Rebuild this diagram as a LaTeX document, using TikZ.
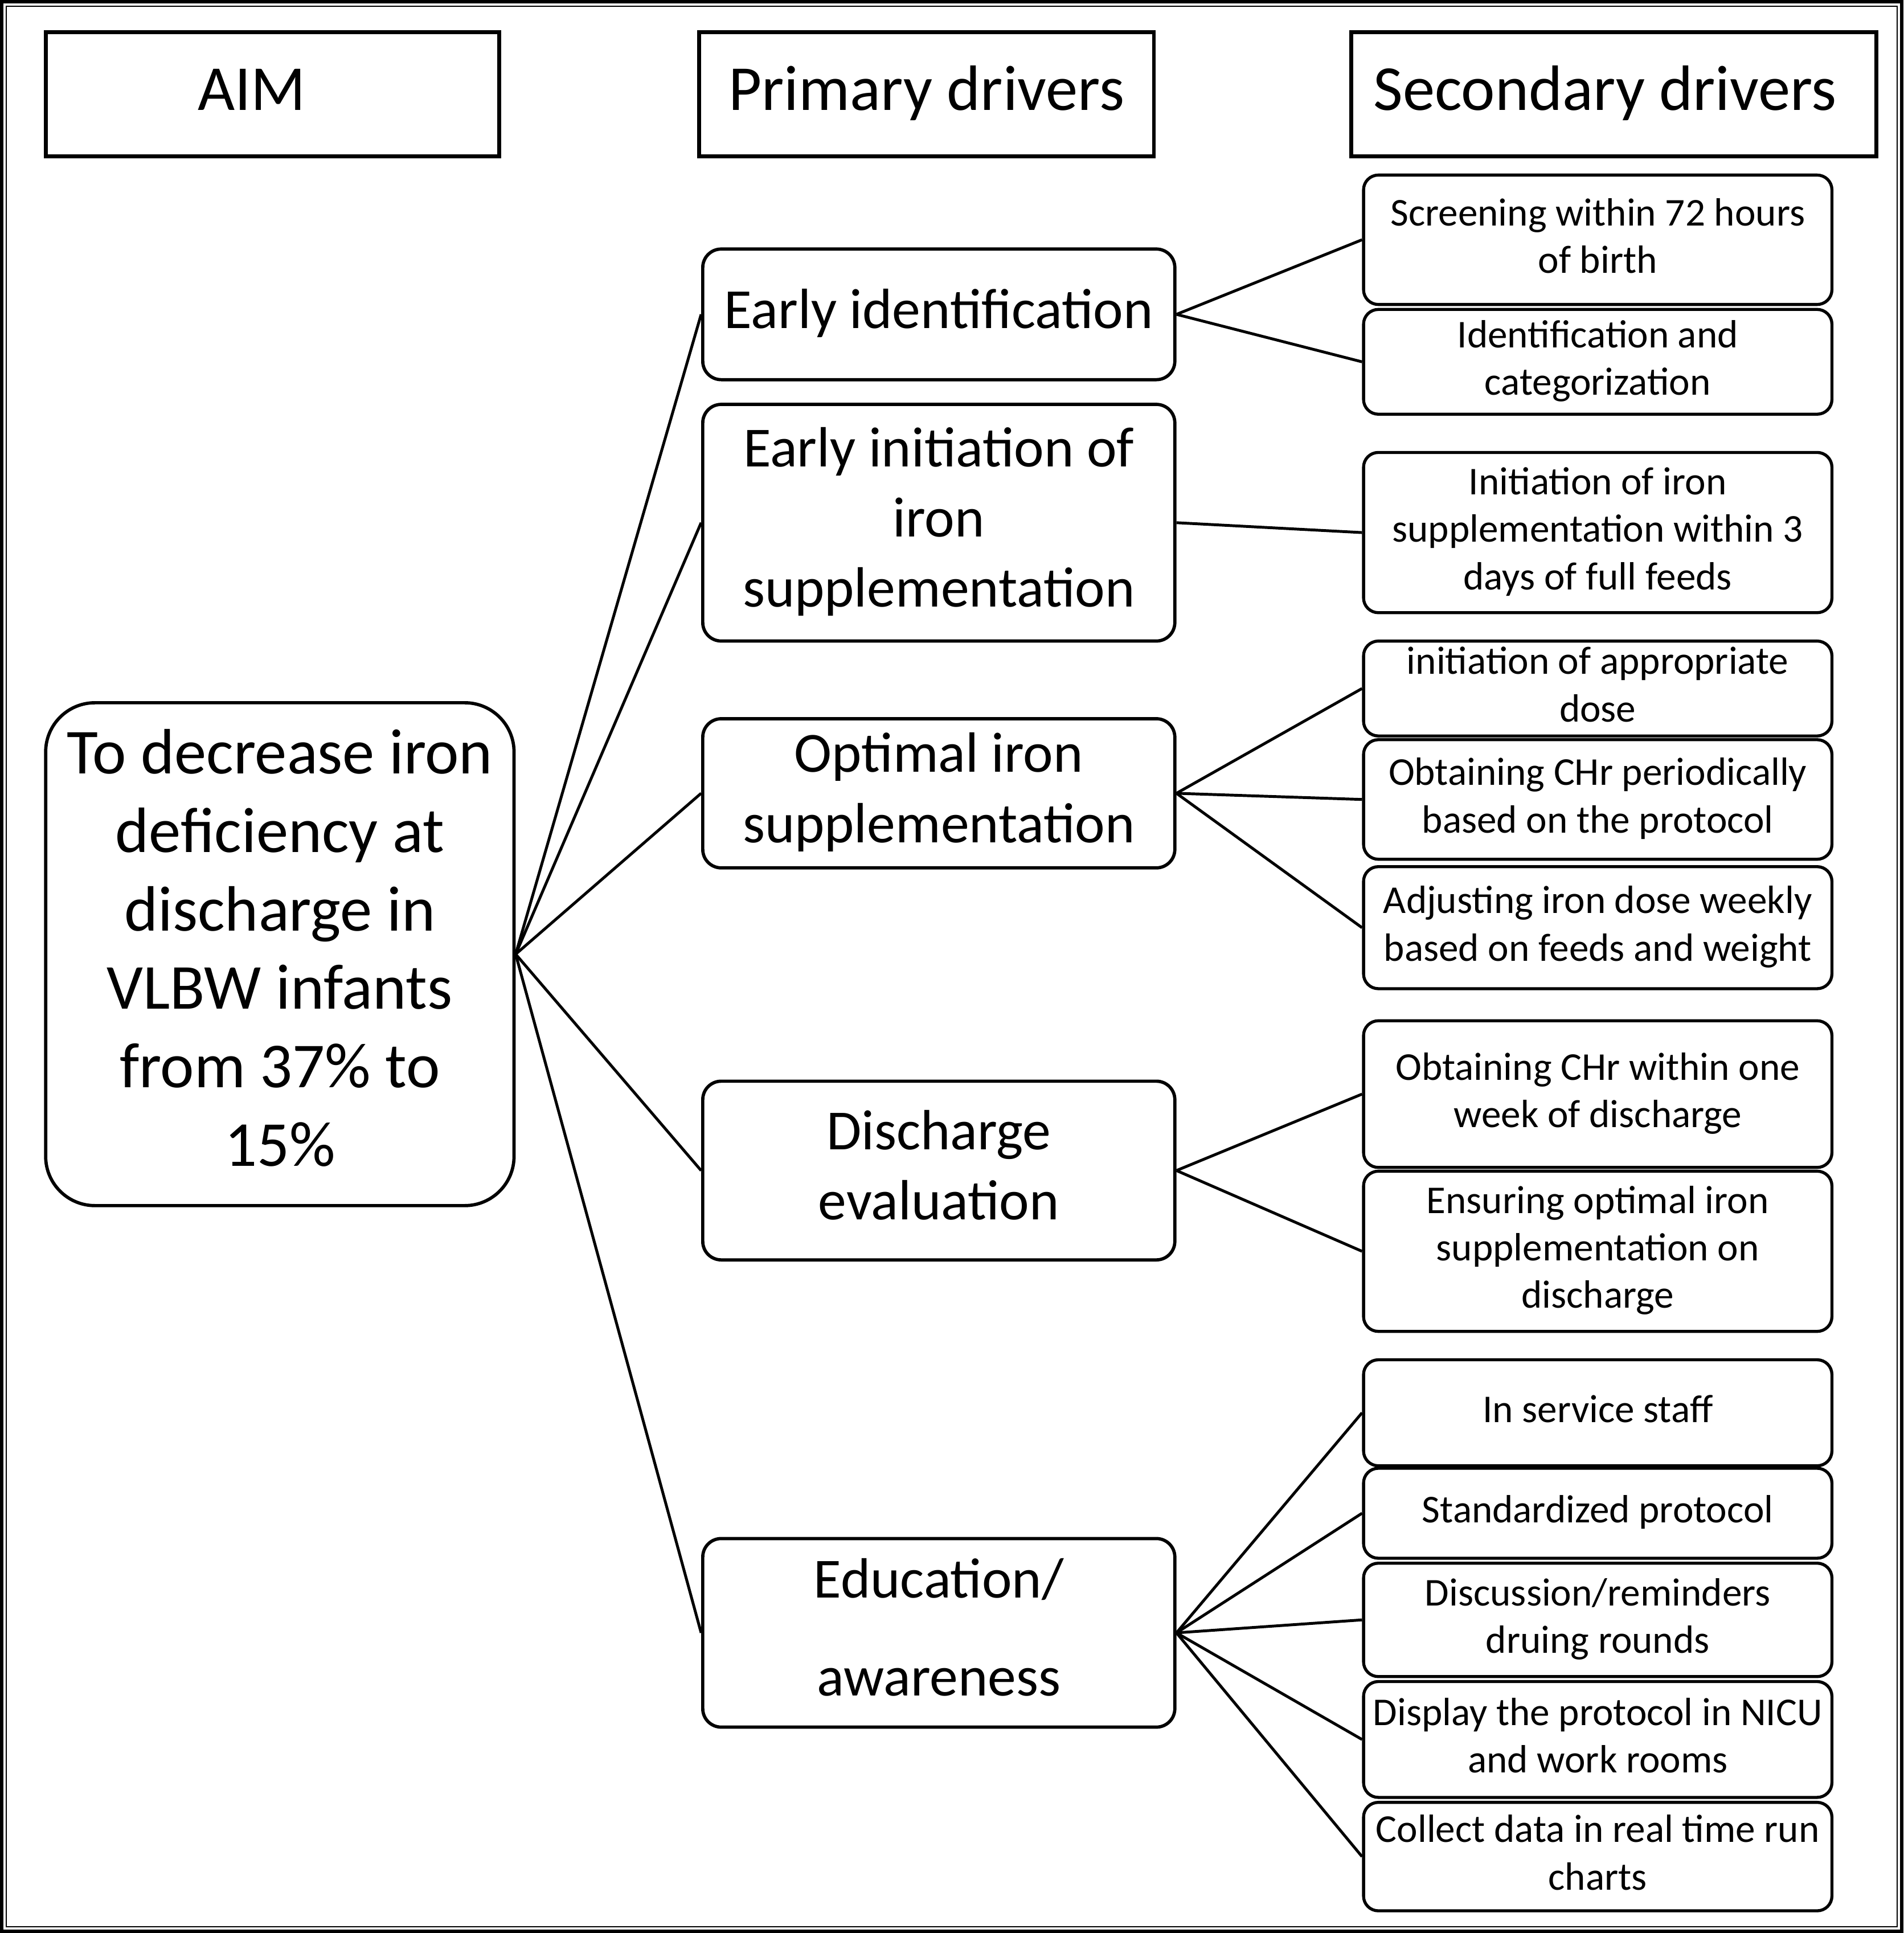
\documentclass[tikz,border=0pt]{standalone}
\usepackage{fontspec}
\setmainfont{Carlito}
\newcommand\tb[1]{\begin{tabular}{@{}c@{}}#1\end{tabular}}
\begin{document}
\begin{tikzpicture}[x=0.02cm,y=-0.02cm,
  hdr/.style={draw, line width=1.8pt, inner sep=0pt, align=center, font=\fontsize{29.6}{36.2}\selectfont},
  aimbox/.style={draw, line width=1.5pt, rounded corners=0.8cm, inner sep=0pt, align=center, font=\fontsize{29.6}{36.2}\selectfont},
  pbox/.style={draw, line width=1.5pt, rounded corners=0.3cm, inner sep=0pt, align=center, minimum width=7.66cm, font=\fontsize{26.2}{32.4}\selectfont},
  sbox/.style={draw, line width=1.4pt, rounded corners=0.24cm, inner sep=0pt, align=center, minimum width=7.6cm, font=\fontsize{18.2}{21.9}\selectfont},
  conn/.style={line width=1.3pt}]
\useasboundingbox (0,0) rectangle (1544,1568);
% frame
\draw[line width=3*0.02cm] (1.5,1.5) rectangle (1542.5,1566.5);
\draw[line width=0.6pt] (5,5) rectangle (1539,1563);
% headers
\node[hdr, minimum width=7.36cm, minimum height=2.02cm] (haim) at (221,76.5) {\tb{AIM\hspace*{19pt}}};
\node[hdr, minimum width=7.38cm, minimum height=2.02cm] (hprim) at (751.5,76.5) {\tb{Primary drivers}};
\node[hdr, minimum width=8.52cm, minimum height=2.02cm] (hsec) at (1309,76.5) {\tb{Secondary drivers\hspace*{8pt}}};
% aim
\node[aimbox, minimum width=7.6cm, minimum height=8.16cm] (aim) at (227,774) {\tb{To decrease iron\\deficiency at\\discharge in\\VLBW infants\\from 37\% to\\15\%}};
% primary
\node[pbox, minimum height=2.12cm] (p1) at (761.5,255) {\tb{Early identification}};
\node[pbox, minimum height=3.84cm] (p2) at (761.5,424) {\tb{Early initiation of\\iron\\supplementation}};
\node[pbox, minimum height=2.42cm] (p3) at (761.5,643.5) {\tb{Optimal iron\\supplementation}};
\node[pbox, minimum height=2.9cm] (p4) at (761.5,949.5) {\tb{Discharge\\evaluation}};
\node[pbox, minimum height=3.06cm] (p5) at (761.5,1324.5) {\tb{Education/\\[13pt]awareness}};
% secondary
\node[sbox, minimum height=2.1cm] (s1) at (1296,194.5) {\tb{Screening within 72 hours\\of birth}};
\node[sbox, minimum height=1.7cm] (s2) at (1296,293.5) {\tb{Identification and\\categorization}};
\node[sbox, minimum height=2.6cm] (s3) at (1296,432) {\tb{Initiation of iron\\supplementation within 3\\days of full feeds}};
\node[sbox, minimum height=1.54cm] (s4) at (1296,558.5) {\tb{initiation of appropriate\\dose}};
\node[sbox, minimum height=1.94cm] (s5) at (1296,648.5) {\tb{Obtaining CHr periodically\\based on the protocol}};
\node[sbox, minimum height=1.98cm] (s6) at (1296,752.5) {\tb{Adjusting iron dose weekly\\based on feeds and weight}};
\node[sbox, minimum height=2.38cm] (s7) at (1296,887.5) {\tb{Obtaining CHr within one\\week of discharge}};
\node[sbox, minimum height=2.6cm] (s8) at (1296,1015) {\tb{Ensuring optimal iron\\supplementation on\\discharge}};
\node[sbox, minimum height=1.72cm] (s9) at (1296,1146) {\tb{In service staff}};
\node[sbox, minimum height=1.46cm] (s10) at (1296,1227.5) {\tb{Standardized protocol}};
\node[sbox, minimum height=1.84cm] (s11) at (1296,1314) {\tb{Discussion/reminders\\druing rounds}};
\node[sbox, minimum height=1.88cm] (s12) at (1296,1411) {\tb{Display the protocol in NICU\\and work rooms}};
\node[sbox, minimum height=1.76cm] (s13) at (1296,1506) {\tb{Collect data in real time run\\charts}};
% connectors
\foreach \p in {p1,p2,p3,p4,p5} \draw[conn] (aim.east) -- (\p.west);
\foreach \s in {s1,s2} \draw[conn] (p1.east) -- (\s.west);
\draw[conn] (p2.east) -- (s3.west);
\foreach \s in {s4,s5,s6} \draw[conn] (p3.east) -- (\s.west);
\foreach \s in {s7,s8} \draw[conn] (p4.east) -- (\s.west);
\foreach \s in {s9,s10,s11,s12,s13} \draw[conn] (p5.east) -- (\s.west);
\end{tikzpicture}
\end{document}
